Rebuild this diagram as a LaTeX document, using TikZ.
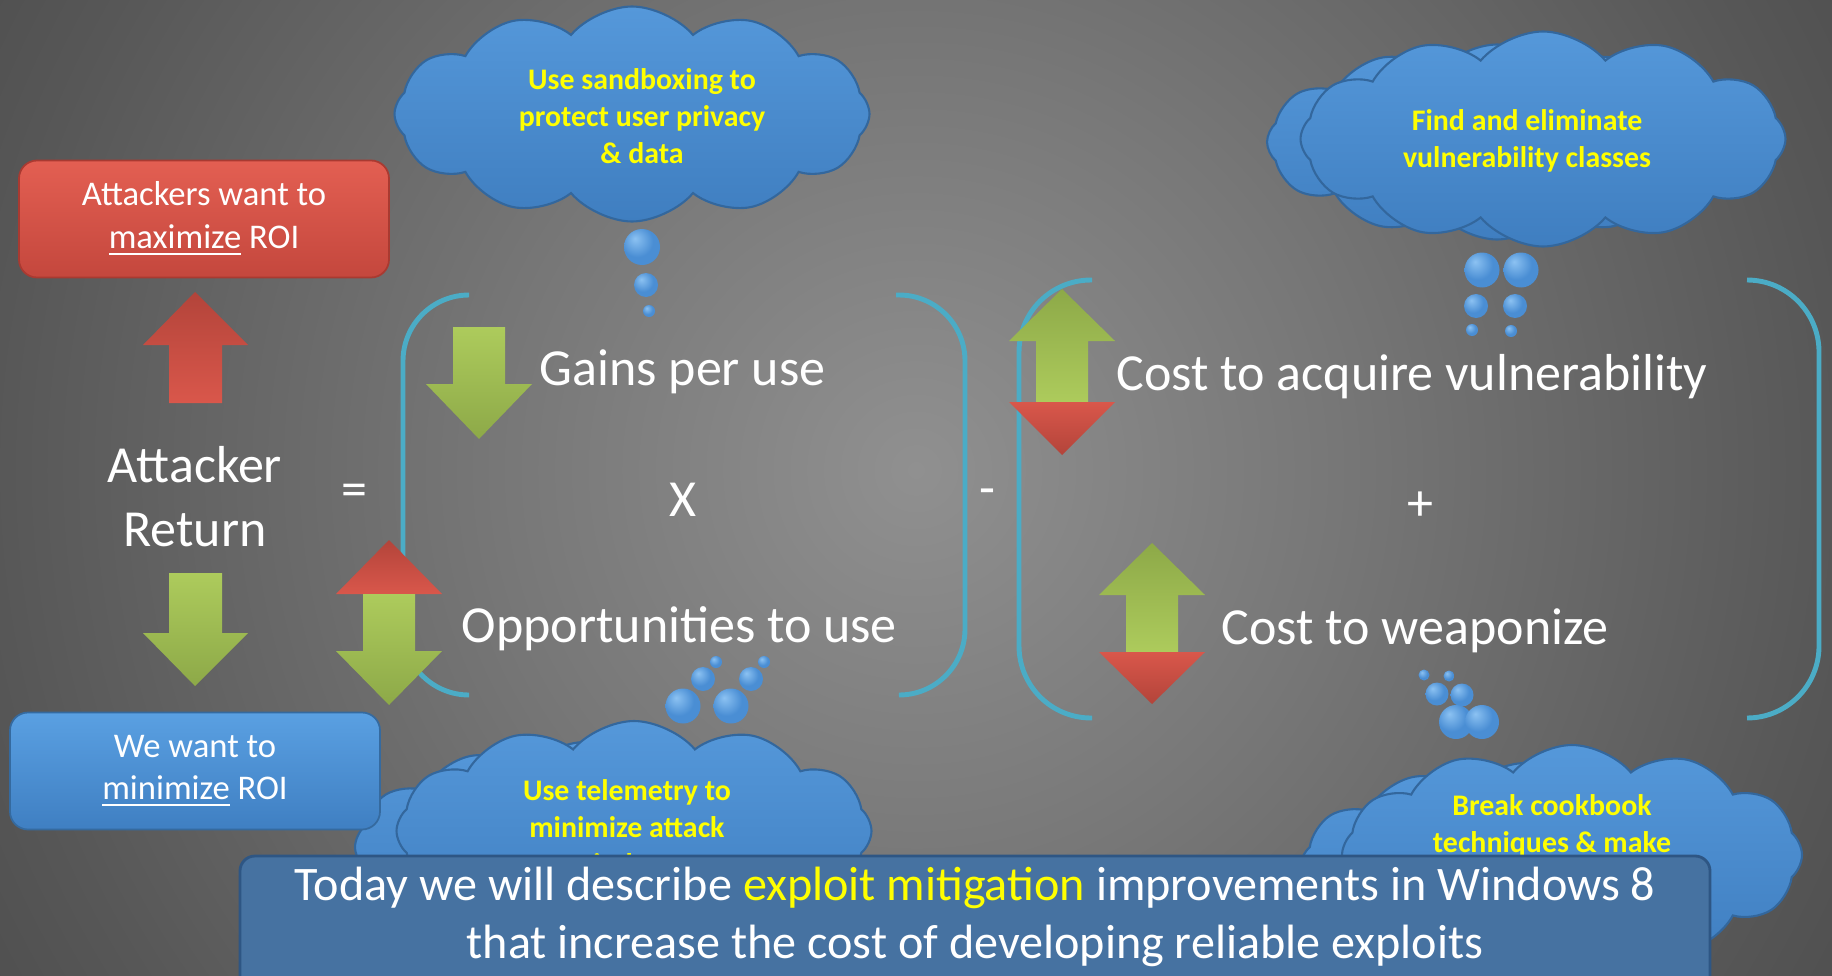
\documentclass[tikz,border=0pt]{standalone}
\usepackage{fontspec}
\setmainfont{Carlito}
\usetikzlibrary{shapes.symbols}

\definecolor{bgA}{HTML}{909090}
\definecolor{bgB}{HTML}{777777}
\definecolor{bgC}{HTML}{575757}
\definecolor{bgD}{HTML}{333333}
\definecolor{bgE}{HTML}{181818}
\definecolor{redtop}{HTML}{E35F52}
\definecolor{redbot}{HTML}{C4473D}
\definecolor{redline}{HTML}{A93A31}
\definecolor{bluetop}{HTML}{5AA0E2}
\definecolor{bluebot}{HTML}{3F7FC2}
\definecolor{blueline}{HTML}{356A9F}
\definecolor{greenA}{HTML}{8DA948}
\definecolor{greenB}{HTML}{ADCB5C}
\definecolor{arrowredA}{HTML}{B3443A}
\definecolor{arrowredB}{HTML}{D9574B}
\definecolor{bracket}{HTML}{4BACC6}
\definecolor{cloudtop}{HTML}{5598DA}
\definecolor{cloudbot}{HTML}{3F7EC0}
\definecolor{cloudline}{HTML}{33679D}
\definecolor{bubhi}{HTML}{8CC2F2}
\definecolor{bubble}{HTML}{4A8ED4}
\definecolor{bubdark}{HTML}{2C5F96}
\definecolor{hint}{HTML}{FFFF00}
\definecolor{bannerfill}{HTML}{4672A1}
\definecolor{bannerline}{HTML}{2E5684}

\pgfdeclareradialshading{slidebg}{\pgfpoint{0bp}{0bp}}{color(0bp)=(bgA); color(10bp)=(bgB); color(22bp)=(bgC); color(38bp)=(bgD); color(50bp)=(bgE)}
\pgfdeclareradialshading{bead}{\pgfpoint{-10bp}{12bp}}{color(0bp)=(bubhi); color(22bp)=(bubble); color(52bp)=(bubble); color(66bp)=(bubdark)}

\begin{document}
\begin{tikzpicture}[x=0.1mm, y=-0.1mm,
    bigtxt/.style={text=white, inner sep=0pt, font=\fontsize{14.8}{18.2}\selectfont},
    roibox/.style={draw, line width=0.5pt, rounded corners=1.8mm, minimum width=37mm,
      minimum height=11.7mm, align=center, text=white, font=\fontsize{9.85}{12.2}\selectfont},
    thought/.style={cloud, cloud puffs=12, cloud puff arc=100, aspect=2.3, inner sep=0pt,
      draw=cloudline, line width=0.6pt, top color=cloudtop, bottom color=cloudbot},
    cloudtxt/.style={text=hint, align=center, inner sep=0pt, font=\fontsize{8.5}{10.6}\selectfont\bfseries},
    bubble/.style={circle, inner sep=0pt, shading=bead},
    paren/.style={draw=bracket, line width=1.4pt},
    greenup/.style={top color=greenA, bottom color=greenB},
    greendown/.style={top color=greenB, bottom color=greenA},
    redup/.style={top color=arrowredA, bottom color=arrowredB},
    reddown/.style={top color=arrowredB, bottom color=arrowredA}]

  \useasboundingbox (0,0) rectangle (1832,975);
  \clip (0,0) rectangle (1832,975);
  \shade[shading=slidebg] (-134,-580) rectangle (1966,1520);

  % brackets
  \draw[paren, rounded corners=6.6mm] (469,295) -- (403,295) -- (403,695) -- (469,695);
  \draw[paren, rounded corners=6.6mm] (896,295) -- (965,295) -- (965,695) -- (900,695);
  \draw[paren, rounded corners=7.2mm] (1092,280) -- (1019,280) -- (1019,718) -- (1092,718);
  \draw[paren, rounded corners=7.2mm] (1747,280) -- (1819,280) -- (1819,718) -- (1747,718);

  % block arrows
  \shade[redup] (195,292) -- (248,345) -- (222,345) -- (222,403) -- (169,403) -- (169,345) -- (143,345) -- cycle;
  \shade[greendown] (169,573) -- (222,573) -- (222,633) -- (248,633) -- (195,686) -- (143,633) -- (169,633) -- cycle;
  \shade[greendown] (453,327) -- (505,327) -- (505,384) -- (532,384) -- (479,439) -- (426,384) -- (453,384) -- cycle;
  \shade[redup] (389,540) -- (442,594) -- (336,594) -- cycle;
  \shade[greendown] (363,594) -- (415,594) -- (415,651) -- (442,651) -- (389,705) -- (336,651) -- (363,651) -- cycle;
  \shade[greenup] (1062,289) -- (1115,341) -- (1088,341) -- (1088,402) -- (1036,402) -- (1036,341) -- (1009,341) -- cycle;
  \shade[reddown] (1009,402) -- (1115,402) -- (1062,455) -- cycle;
  \shade[greenup] (1152,543) -- (1205,595) -- (1178,595) -- (1178,652) -- (1126,652) -- (1126,595) -- (1099,595) -- cycle;
  \shade[reddown] (1099,652) -- (1205,652) -- (1152,704) -- cycle;

  % formula
  \node[bigtxt, align=center] (ret) at (195,497) {Attacker\\Return};
  \node[bigtxt] (eq) at (354,495) {=};
  \node[bigtxt, anchor=west] (gains) at (539,372) {Gains per use};
  \node[bigtxt] (times) at (683,500) {X};
  \node[bigtxt, anchor=west] (opp) at (461,629) {Opportunities to use};
  \node[bigtxt] (minus) at (987,497) {-};
  \node[bigtxt, anchor=west] (acq) at (1116,377) {Cost to acquire vulnerability};
  \node[bigtxt] (plus) at (1420,506) {+};
  \node[bigtxt, anchor=west] (weap) at (1221,631) {Cost to weaponize};

  % thought clouds
  \node[thought, minimum width=47.5mm, minimum height=21.5mm] (sandcl) at (632,114) {};
  \node[cloudtxt] (sandtxt) at (642,116) {Use sandboxing to\\protect user privacy\\\& data};
  \foreach \x/\y/\d [count=\i] in {642/247/3.6, 646/285/2.4, 649/311/1.2}
    \node[bubble, minimum size=\d mm] (sandb\i) at (\x,\y) {};

  \node[thought, minimum width=46mm, minimum height=19.5mm] (vulncl2) at (1497,142) {};
  \node[thought, minimum width=48.5mm, minimum height=21.5mm] (vulncl) at (1543,139) {};
  \node[cloudtxt] (vulntxt) at (1527,141) {Find and eliminate\\vulnerability classes};
  \foreach \x/\y/\d [count=\i] in {1482/270/3.5, 1521/270/3.5, 1476/306/2.4, 1515/306/2.4, 1472/330/1.2, 1511/331/1.2}
    \node[bubble, minimum size=\d mm] (vulnb\i) at (\x,\y) {};

  \node[thought, minimum width=46mm, minimum height=21mm] (telecl2) at (585,847) {};
  \node[thought, minimum width=47.5mm, minimum height=22mm] (telecl) at (634,831) {};
  \node[cloudtxt] (teletxt) at (627,827) {Use telemetry to\\minimize attack\\windows};
  \foreach \x/\y/\d [count=\i] in {716/662/1.2, 764/662/1.2, 703/679/2.4, 751/679/2.4, 683/706/3.5, 731/706/3.5}
    \node[bubble, minimum size=\d mm] (teleb\i) at (\x,\y) {};

  \node[thought, minimum width=45mm, minimum height=21mm] (cookcl2) at (1525,868) {};
  \node[thought, minimum width=46mm, minimum height=22mm] (cookcl) at (1572,855) {};
  \node[cloudtxt] (cooktxt) at (1552,826) {Break cookbook\\techniques \& make};
  \foreach \x/\y/\d [count=\i] in {1424/675/1.1, 1449/676/1.1, 1437/694/2.3, 1462/695/2.3, 1456/722/3.4, 1482/722/3.4}
    \node[bubble, minimum size=\d mm] (cookb\i) at (\x,\y) {};

  % goal boxes
  \node[roibox, draw=redline, top color=redtop, bottom color=redbot] (maxroi) at (204,219)
    {Attackers want to\\\underline{maximize} ROI};
  \node[roibox, draw=blueline, top color=bluetop, bottom color=bluebot] (minroi) at (195,771)
    {We want to\\\underline{minimize} ROI};

  % summary banner
  \draw[fill=bannerfill, draw=bannerline, line width=0.8pt, rounded corners=1.5mm] (240,856) rectangle (1710,1010);
  \node[text=white, align=center, inner sep=0pt, font=\fontsize{13.7}{16.6}\selectfont] (today) at (975,917)
    {Today we will describe \textcolor{hint}{exploit mitigation} improvements in Windows 8\\
     that increase the cost of developing reliable exploits};
\end{tikzpicture}
\end{document}
